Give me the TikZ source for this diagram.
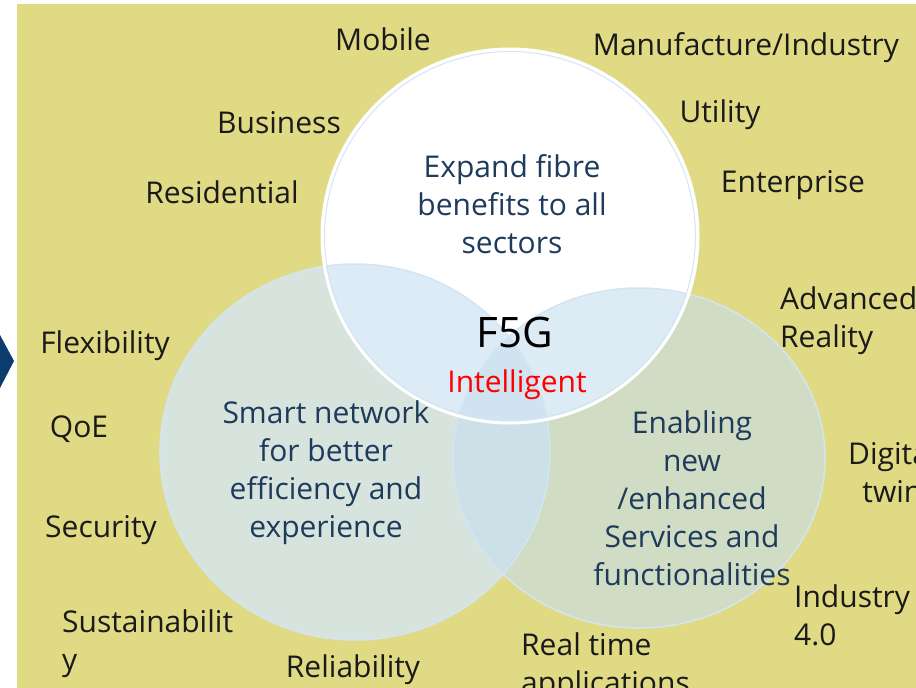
\documentclass[tikz,border=0pt]{standalone}
\usepackage{fontspec}
\setmainfont{Open Sans}
\definecolor{bgolive}{HTML}{E0DA84}
\definecolor{arrowblue}{HTML}{0A3D6E}
\definecolor{leftblue}{HTML}{D5E6F4}
\definecolor{rightblue}{HTML}{C6DEEE}
\definecolor{rimblue}{HTML}{D3E5F2}
\definecolor{labelink}{HTML}{1A1A1A}
\definecolor{circink}{HTML}{1F3B5C}
\begin{document}
\begin{tikzpicture}[x=1pt, y=-1pt, line join=round, line cap=round,
	lbl/.style={font=\fontsize{30}{38}\selectfont, text=labelink, inner sep=0pt, anchor=base},
	ctext/.style={lbl, text=circink, align=center},
	side/.style={lbl, anchor=base west, align=left}]
	\def\rt{188} % top circle
	\def\rl{195} \def\hl{188} % left circle
	\def\rr{186} \def\hr{170} % right circle
	\useasboundingbox (0,0) rectangle (916,688);
	\clip (0,0) rectangle (916,688);
	\fill[bgolive] (17,4) rectangle (916,688);
	\fill[arrowblue] (0,335) -- (14,361) -- (0,388) -- cycle;
	\coordinate (T) at (510,236);
	\coordinate (L) at (355,452);
	\coordinate (R) at (639,458);
	% circles
	\fill[white] (T) ellipse ({\rt} and {187});
	\fill[leftblue, fill opacity=.8] (L) ellipse ({\rl} and {\hl});
	\fill[rightblue, fill opacity=.6] (R) ellipse ({\rr} and {\hr});
	\draw[rimblue, line width=1.5pt] (L) ellipse ({\rl} and {\hl});
	\draw[rimblue, line width=1.5pt] (R) ellipse ({\rr} and {\hr});
	\draw[white, line width=3pt] (T) ellipse ({\rt} and {187});
	\draw[rimblue, line width=1pt] (T) ellipse ({\rt-2.5} and {184.5});
	% texts in the circles (base = last line)
	\node[ctext] (expand) at (512,253) {Expand fibre\\benefits to all\\sectors};
	\node[ctext] (smart) at (326,537) {Smart network\\for better\\efficiency and\\experience};
	\node[ctext] (enabling) at (692,585) {Enabling\\new\\/enhanced\\Services and\\functionalities};
	\node[lbl, font=\fontsize{42}{48}\selectfont, text=black] (f5g) at (515,347) {F5G};
	\node[lbl, text=red] (intel) at (517,392) {Intelligent};
	% labels round the circles
	\node[lbl] (mobile) at (383,50) {Mobile};
	\node[lbl] (manuf) at (746,55) {Manufacture/Industry};
	\node[lbl] (utility) at (720,122) {Utility};
	\node[lbl] (business) at (279,133) {Business};
	\node[lbl] (enterprise) at (793,192) {Enterprise};
	\node[lbl] (residential) at (222,203) {Residential};
	\node[side] (advanced) at (780,347) {Advanced\\Reality};
	\node[lbl] (flex) at (105,353) {Flexibility};
	\node[lbl] (qoe) at (79,437) {QoE};
	\node[lbl, anchor=base west, align=center] (digital) at (848,502) {Digital\\twin};
	\node[lbl] (security) at (101,537) {Security};
	\node[side] (industry) at (794,645) {Industry\\4.0};
	\node[side] (sustain) at (62,670) {Sustainabilit\\y};
	\node[lbl] (reliab) at (353,677) {Reliability};
	\node[side] (realtime) at (521,693) {Real time\\applications};
\end{tikzpicture}
\end{document}
